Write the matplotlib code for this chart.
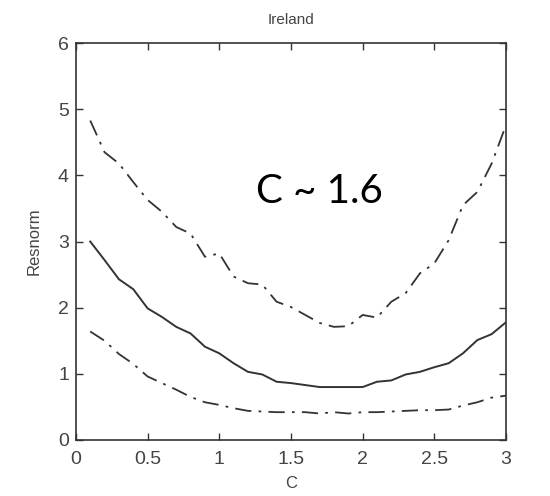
import matplotlib.pyplot as plt
import numpy as np

c_values = np.round(np.arange(1, 31) * 0.1, 1)

resnorm_mid = [3.00, 2.72, 2.43, 2.28, 1.99, 1.86, 1.71, 1.61, 1.41, 1.31,
               1.16, 1.03, 0.99, 0.88, 0.86, 0.83, 0.80, 0.80, 0.80, 0.80,
               0.88, 0.90, 0.99, 1.03, 1.10, 1.16, 1.31, 1.51, 1.60, 1.78]
resnorm_upper = [4.83, 4.35, 4.18, 3.90, 3.63, 3.45, 3.22, 3.12, 2.77, 2.82,
                 2.47, 2.37, 2.35, 2.09, 2.01, 1.89, 1.77, 1.71, 1.72, 1.89,
                 1.85, 2.09, 2.22, 2.52, 2.67, 3.02, 3.55, 3.75, 4.18, 4.76]
resnorm_lower = [1.64, 1.50, 1.30, 1.15, 0.96, 0.86, 0.76, 0.65, 0.57, 0.53,
                 0.48, 0.44, 0.43, 0.42, 0.42, 0.42, 0.40, 0.42, 0.40, 0.42,
                 0.42, 0.43, 0.44, 0.45, 0.45, 0.46, 0.52, 0.57, 0.64, 0.67]

line_color = "#333333"
text_color = "#444444"

plt.rcParams["font.family"] = ["Liberation Sans", "DejaVu Sans"]

fig = plt.figure(figsize=(5.5, 4.96), dpi=100)
ax = fig.add_axes([0.138, 0.113, 0.782, 0.80])

dashdot = (0, (9, 4, 1.5, 4))
ax.plot(c_values, resnorm_upper, color=line_color, lw=1.3, linestyle=dashdot)
ax.plot(c_values, resnorm_mid, color=line_color, lw=1.4)
ax.plot(c_values, resnorm_lower, color=line_color, lw=1.3, linestyle=dashdot)

ax.set_xlim(0, 3)
ax.set_ylim(0, 6)
ax.set_xticks([0, 0.5, 1, 1.5, 2, 2.5, 3])
ax.set_xticklabels(["0", "0.5", "1", "1.5", "2", "2.5", "3"])
ax.set_yticks(range(7))
ax.tick_params(direction="in", top=True, right=True, length=5, width=1,
               color=line_color, labelsize=14, labelcolor=text_color)
ax.tick_params(axis="x", pad=8)
ax.tick_params(axis="y", pad=5)
for spine in ax.spines.values():
    spine.set_color(line_color)
    spine.set_linewidth(1.2)

ax.set_xlabel("C", fontsize=12, color=text_color, labelpad=6)
ax.set_ylabel("Resnorm", fontsize=12, color=text_color, labelpad=12)
ax.set_title("Ireland", fontsize=11, color=text_color, pad=14)

ax.text(1.7, 3.76, "C ~ 1.6", fontsize=29, family="Lato", color="black",
        ha="center", va="center")

fig.savefig("out.png", dpi=100)
